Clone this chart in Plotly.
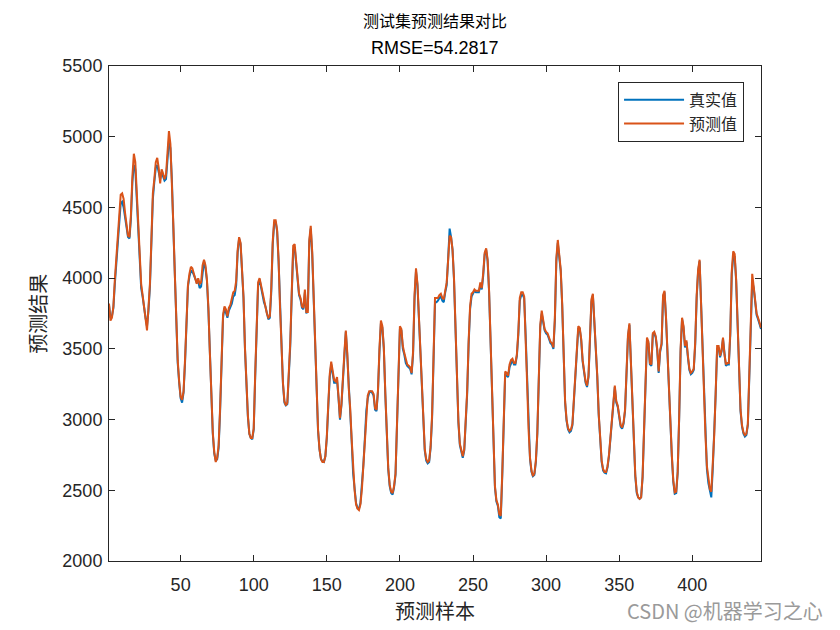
import plotly.graph_objects as go

true_vals = [
3810,3720,3730,3790,3960,4120,4280,4440,4530,4540,
4500,4430,4360,4290,4280,4420,4680,4800,4770,4560,
4320,4080,3930,3870,3770,3720,3660,3770,3940,4230,
4560,4680,4780,4800,4760,4700,4750,4720,4690,4700,
4880,4970,4920,4700,4360,4020,3650,3400,3260,3150,
3120,3190,3400,3700,3940,4010,4050,4050,4020,3990,
3970,3980,3930,3940,4060,4120,4070,3980,3770,3460,
3140,2900,2760,2710,2720,2800,3060,3400,3720,3790,
3760,3720,3770,3800,3820,3870,3880,3950,4180,4280,
4240,4050,3860,3500,3200,3020,2900,2870,2860,2930,
3300,3700,3950,3990,3930,3870,3830,3800,3740,3710,
3720,3900,4240,4390,4400,4330,4120,3780,3500,3250,
3120,3100,3110,3300,3520,3880,4200,4220,4100,3950,
3880,3850,3790,3780,3900,3750,3780,4250,4350,4170,
3820,3480,3130,2920,2790,2720,2705,2700,2740,2870,
3090,3300,3390,3330,3260,3260,3280,3150,3000,3100,
3300,3450,3620,3450,3210,3070,2850,2620,2490,2410,
2375,2370,2410,2520,2680,2860,3060,3150,3190,3200,
3190,3170,3070,3060,3200,3480,3680,3650,3500,3180,
2880,2650,2530,2480,2470,2520,2610,2930,3330,3640,
3630,3500,3460,3400,3380,3370,3360,3320,3460,3850,
4050,3950,3700,3520,3200,2940,2780,2710,2690,2700,
2800,3010,3450,3830,3830,3840,3860,3870,3840,3830,
3900,3950,4140,4350,4290,4200,3990,3650,3300,2980,
2820,2760,2730,2780,2950,3180,3530,3780,3870,3890,
3910,3900,3900,3900,3950,3920,4020,4170,4200,4120,
3900,3570,3200,2800,2520,2420,2390,2310,2300,2600,
3050,3320,3310,3300,3370,3400,3420,3390,3390,3450,
3600,3840,3880,3880,3860,3600,3250,2920,2720,2630,
2600,2610,2700,2900,3230,3650,3750,3690,3630,3610,
3600,3570,3540,3530,3500,3700,4120,4250,4150,4050,
3810,3400,3120,2990,2930,2910,2920,2960,3140,3340,
3510,3640,3640,3560,3410,3310,3260,3230,3300,3560,
3830,3880,3700,3520,3300,3030,2830,2700,2640,2625,
2620,2660,2740,2880,3020,3110,3230,3120,3090,3020,
2950,2935,2970,3060,3290,3580,3670,3400,3070,2800,
2600,2480,2450,2440,2450,2590,2940,3340,3560,3540,
3390,3380,3600,3610,3580,3490,3330,3480,3530,3860,
3900,3720,3480,3140,2980,2740,2560,2475,2480,2620,
3000,3480,3710,3650,3510,3550,3440,3350,3320,3330,
3350,3530,3860,4050,4120,3800,3450,3180,2880,2650,
2550,2490,2450,2650,2880,3180,3500,3510,3440,3480,
3570,3450,3380,3390,3390,3600,4030,4150,4150,3980,
3620,3300,3060,2950,2900,2880,2890,2960,3280,3760,
3980,3930,3810,3740,3710,3680,3640]

pred_vals = [
3820,3700,3720,3800,3990,4150,4310,4480,4590,4600,
4560,4460,4380,4300,4290,4450,4720,4880,4820,4580,
4330,4100,3960,3880,3790,3730,3630,3790,3960,4270,
4600,4700,4820,4850,4780,4670,4770,4740,4700,4730,
4900,5040,4950,4720,4380,4040,3680,3420,3270,3160,
3140,3200,3420,3730,3950,4030,4080,4070,4030,4000,
3960,4000,3960,3970,4090,4130,4090,3990,3790,3470,
3150,2910,2770,2700,2730,2820,3080,3420,3740,3800,
3780,3730,3790,3810,3850,3900,3910,3980,4200,4290,
4250,4070,3870,3510,3210,3030,2900,2870,2870,2940,
3320,3720,3970,4000,3950,3880,3840,3800,3750,3720,
3730,3930,4260,4410,4410,4340,4130,3790,3510,3260,
3130,3100,3120,3310,3550,3900,4230,4240,4110,3960,
3890,3860,3800,3790,3920,3760,3760,4270,4370,4190,
3830,3490,3140,2930,2790,2720,2700,2700,2740,2880,
3110,3320,3410,3340,3280,3270,3300,3160,3010,3110,
3320,3470,3630,3470,3220,3080,2860,2630,2500,2400,
2370,2360,2400,2510,2680,2870,3080,3170,3200,3200,
3200,3180,3080,3070,3210,3500,3700,3660,3510,3190,
2890,2660,2540,2490,2480,2530,2620,2950,3350,3660,
3640,3520,3470,3420,3390,3380,3370,3330,3480,3880,
4070,3960,3710,3530,3210,2950,2790,2720,2700,2710,
2810,3030,3470,3860,3860,3860,3880,3890,3860,3850,
3910,3970,4130,4300,4290,4200,4000,3660,3310,2990,
2830,2770,2740,2790,2960,3200,3550,3800,3890,3900,
3920,3910,3910,3910,3970,3930,4040,4180,4210,4130,
3910,3580,3210,2810,2530,2430,2400,2330,2320,2620,
3070,3340,3330,3310,3390,3420,3430,3400,3400,3460,
3620,3860,3900,3900,3870,3610,3260,2930,2730,2640,
2600,2620,2710,2910,3250,3670,3770,3700,3640,3620,
3610,3580,3550,3540,3510,3720,4140,4270,4170,4060,
3820,3410,3130,3000,2940,2920,2930,2970,3150,3350,
3530,3660,3650,3570,3420,3320,3270,3240,3310,3580,
3850,3890,3710,3530,3310,3040,2840,2710,2650,2630,
2630,2670,2750,2890,3030,3120,3240,3130,3100,3030,
2960,2945,2980,3070,3300,3600,3680,3410,3080,2810,
2610,2490,2450,2440,2450,2600,2950,3360,3580,3550,
3400,3390,3610,3620,3590,3500,3340,3490,3540,3880,
3910,3730,3490,3150,2990,2750,2570,2485,2490,2630,
3010,3500,3720,3660,3520,3560,3450,3360,3330,3340,
3360,3550,3880,4060,4130,3810,3460,3190,2890,2670,
2580,2510,2490,2670,2890,3190,3520,3520,3450,3490,
3580,3460,3390,3400,3400,3620,4050,4190,4170,3990,
3630,3310,3070,2960,2910,2890,2900,2970,3300,3780,
4030,3940,3820,3750,3720,3690,3650]

x_vals = list(range(1, len(true_vals) + 1))
x_ticks = [50, 100, 150, 200, 250, 300, 350, 400]
y_ticks = [2000, 2500, 3000, 3500, 4000, 4500, 5000, 5500]

title_line1 = "测试集预测结果对比"
title_line2 = "RMSE=54.2817"
legend_names = ["真实值", "预测值"]
x_label = "预测样本"
y_label = "预测结果"
watermark = "CSDN @机器学习之心"

CJK = "Noto Sans CJK SC"
LAT = "Liberation Sans, Arial"
AX = "#262626"

fig = go.Figure()
fig.add_trace(go.Scatter(x=x_vals, y=true_vals, mode="lines", name=legend_names[0],
                         line=dict(color="#0072BD", width=2)))
fig.add_trace(go.Scatter(x=x_vals, y=pred_vals, mode="lines", name=legend_names[1],
                         line=dict(color="#D95319", width=2)))

axis_common = dict(showline=True, linecolor=AX, linewidth=1, mirror="allticks",
                   ticks="inside", ticklen=6, tickcolor=AX, showgrid=False, zeroline=False,
                   tickfont=dict(family=LAT, size=18, color=AX))
fig.update_xaxes(range=[1, len(true_vals)], tickvals=x_ticks, ticklabelstandoff=7,
                 **axis_common)
fig.update_yaxes(range=[2000, 5500], tickvals=y_ticks, ticklabelstandoff=2,
                 **axis_common)

fig.update_layout(
    width=840, height=630,
    margin=dict(l=101, r=87, t=58, b=77),
    paper_bgcolor="white", plot_bgcolor="white",
    showlegend=True,
    legend=dict(x=0.974, y=0.968, xanchor="right", yanchor="top",
                bgcolor="white", bordercolor=AX, borderwidth=1,
                font=dict(family=CJK, size=16, color=AX), itemwidth=60,
                tracegroupgap=0),
    annotations=[
        dict(text=title_line1, xref="paper", yref="paper", x=0.5, y=1.093,
             xanchor="center", yanchor="middle", showarrow=False,
             font=dict(family=CJK, size=16, color="#000000")),
        dict(text=title_line2, xref="paper", yref="paper", x=0.5, y=1.036,
             xanchor="center", yanchor="middle", showarrow=False,
             font=dict(family=LAT, size=18, color="#000000")),
        dict(text=x_label, xref="paper", yref="paper", x=0.5, y=-0.099,
             xanchor="center", yanchor="middle", showarrow=False,
             font=dict(family=CJK, size=20, color=AX)),
        dict(text=y_label, xref="paper", yref="paper", x=-0.11, y=0.5,
             xanchor="center", yanchor="middle", showarrow=False, textangle=-90,
             font=dict(family=CJK, size=20, color=AX)),
        dict(text=watermark, xref="paper", yref="paper", x=1.098, y=-0.099,
             xanchor="right", yanchor="middle", showarrow=False,
             font=dict(family=CJK, size=20, color="#9a9a9a")),
    ],
)

fig.write_html("out.html")
